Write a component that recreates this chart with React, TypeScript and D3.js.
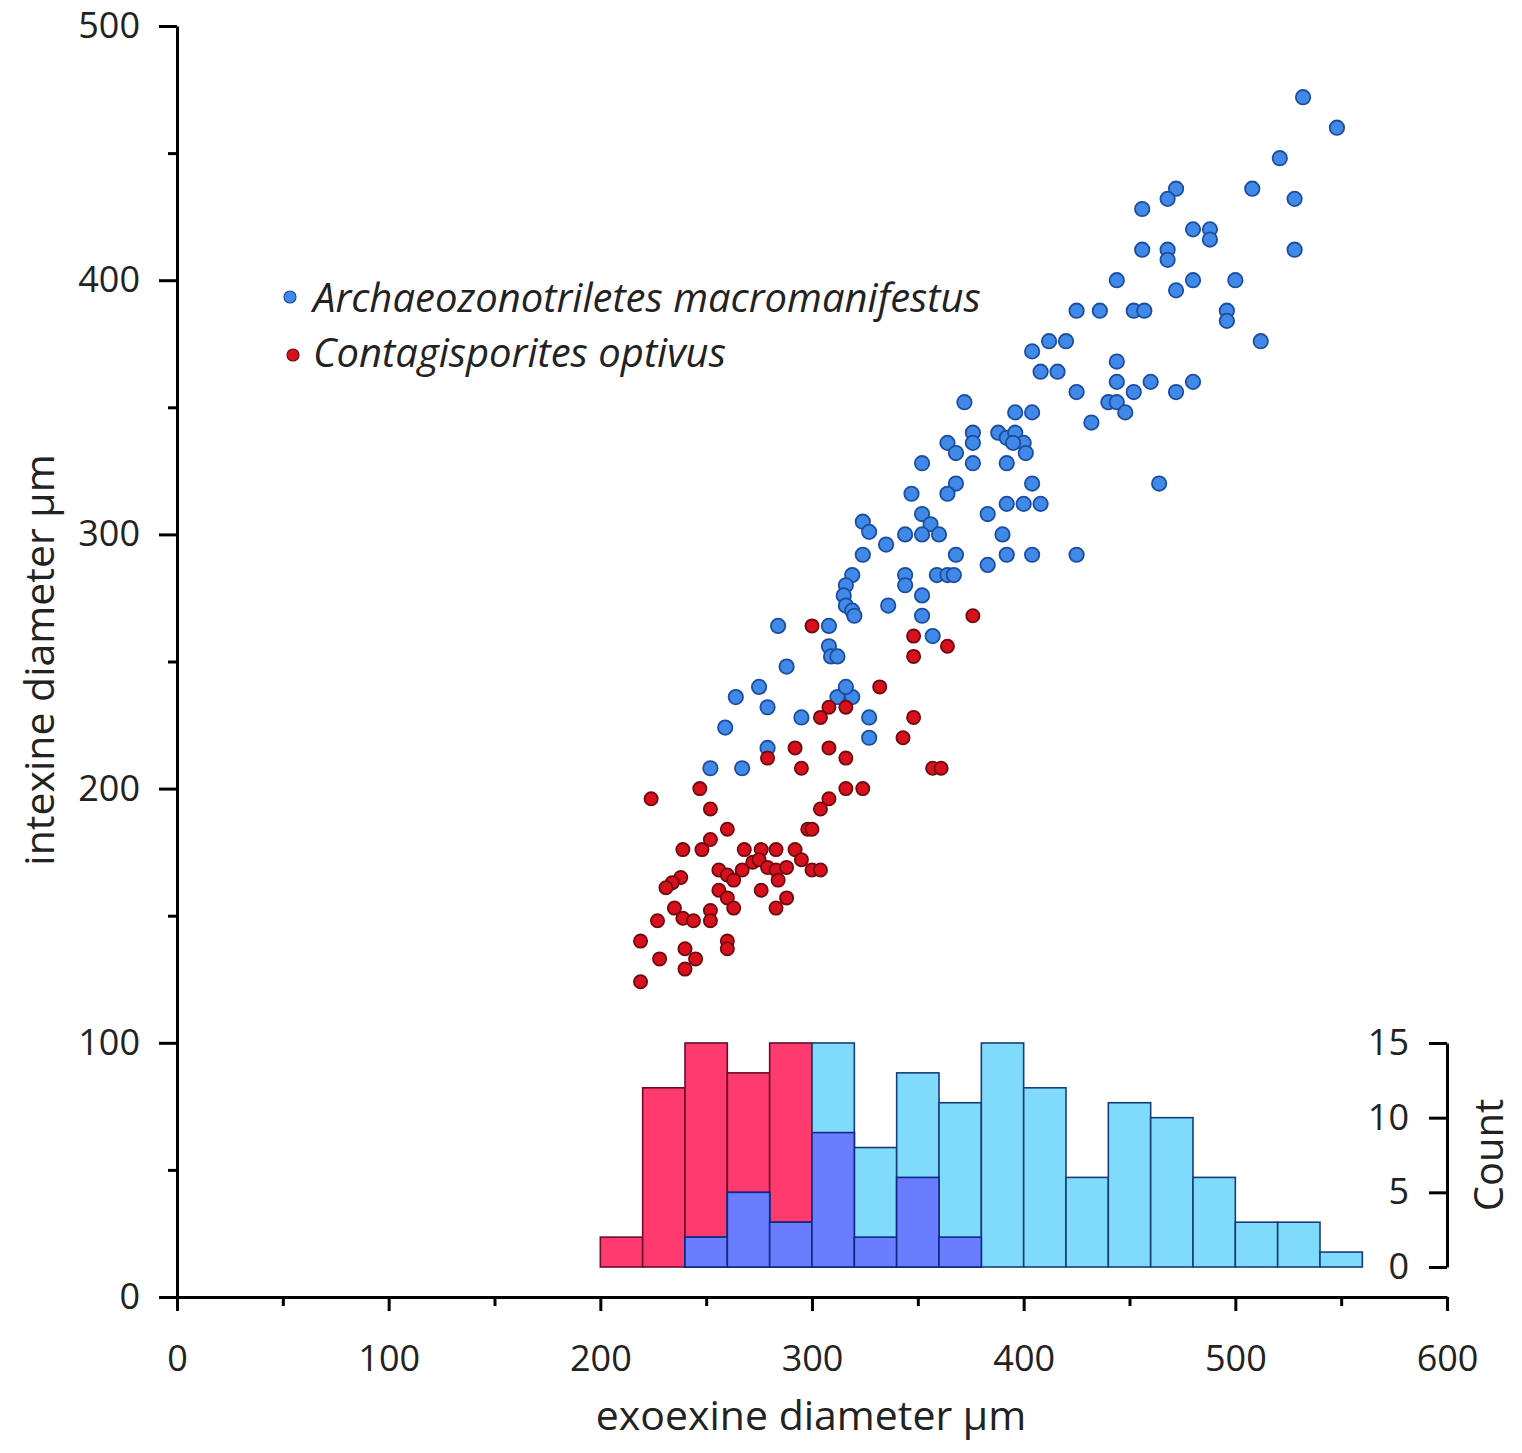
import React, { useRef, useEffect } from 'react';
import * as d3 from 'd3';

// scatter: [exoexine, intexine] in µm
const macromanifestus: [number, number][] = [
  [532, 472], [548, 460], [521, 448], [508, 436], [528, 432], [472, 436], [468, 432],
  [456, 428], [480, 420], [488, 420], [488, 416], [456, 412], [468, 412], [468, 408],
  [528, 412], [444, 400], [480, 400], [472, 396], [500, 400], [425, 388], [436, 388],
  [452, 388], [457, 388], [496, 388], [496, 384], [512, 376], [412, 376], [420, 376],
  [404, 372], [408, 364], [416, 364], [444, 368], [444, 360], [425, 356], [452, 356],
  [460, 360], [472, 356], [480, 360], [440, 352], [444, 352], [448, 348], [432, 344],
  [396, 348], [404, 348], [388, 340], [392, 338], [396, 340], [400, 336], [395, 336],
  [401, 332], [392, 328], [404, 320], [464, 320], [392, 312], [400, 312], [408, 312],
  [390, 300], [392, 292], [404, 292], [425, 292], [383, 288], [383, 308], [372, 352],
  [376, 340], [376, 336], [364, 336], [368, 332], [352, 328], [376, 328], [368, 320],
  [364, 316], [347, 316], [352, 308], [356, 304], [360, 300], [352, 300], [344, 300],
  [335, 296], [324, 305], [327, 301], [324, 292], [368, 292], [359, 284], [364, 284],
  [367, 284], [344, 284], [344, 280], [319, 284], [316, 280], [315, 276], [316, 272],
  [319, 270], [320, 268], [336, 272], [352, 276], [352, 268], [357, 260], [308, 264],
  [284, 264], [308, 256], [309, 252], [312, 252], [288, 248], [275, 240], [264, 236],
  [279, 232], [259, 224], [295, 228], [312, 236], [319, 236], [316, 240], [327, 228],
  [327, 220], [279, 216], [252, 208], [267, 208],
];

const optivus: [number, number][] = [
  [300, 264], [376, 268], [348, 260], [364, 256], [348, 252], [332, 240], [308, 232],
  [304, 228], [316, 232], [348, 228], [343, 220], [292, 216], [308, 216], [316, 212],
  [279, 212], [295, 208], [357, 208], [361, 208], [247, 200], [224, 196], [252, 192],
  [316, 200], [324, 200], [308, 196], [304, 192], [260, 184], [298, 184], [300, 184],
  [239, 176], [248, 176], [252, 180], [268, 176], [276, 176], [283, 176], [292, 176],
  [295, 172], [300, 168], [304, 168], [256, 168], [260, 166], [263, 164], [267, 168],
  [272, 171], [275, 172], [279, 169], [283, 168], [288, 169], [284, 164], [238, 165],
  [234, 163], [231, 161], [256, 160], [260, 157], [263, 153], [276, 160], [288, 157],
  [283, 153], [235, 153], [239, 149], [244, 148], [252, 152], [252, 148], [227, 148],
  [219, 140], [260, 140], [260, 137], [228, 133], [240, 137], [245, 133], [240, 129],
  [219, 124],
];

// histogram of exoexine diameter, 20 µm bins
const binStarts = [200, 220, 240, 260, 280, 300, 320, 340, 360, 380, 400, 420, 440, 460, 480, 500, 520, 540];
const countOptivus = [2, 12, 15, 13, 15, 9, 2, 6, 2, 0, 0, 0, 0, 0, 0, 0, 0, 0];
const countMacro = [0, 0, 2, 5, 3, 15, 8, 13, 11, 15, 12, 6, 11, 10, 6, 3, 3, 1];
const binWidth = 20;

const xTicks = [0, 100, 200, 300, 400, 500, 600];
const xMinor = [50, 150, 250, 350, 450, 550];
const yTicks = [0, 100, 200, 300, 400, 500];
const yMinor = [50, 150, 250, 350, 450];
const countTicks = [0, 5, 10, 15];

const legendItems = [
  { name: 'Archaeozonotriletes macromanifestus', fill: '#4189e8', stroke: '#1c4d9e' },
  { name: 'Contagisporites optivus', fill: '#d8101c', stroke: '#6e0a10' },
];

const W = 1522;
const H = 1453;
const FONT = '"Open Sans", "Noto Sans", sans-serif';
const TICK_FS = 36;
const TITLE_FS = 41;

export default function App() {
  const ref = useRef<SVGSVGElement>(null);

  useEffect(() => {
    const svg = d3.select(ref.current);
    svg.selectAll('*').remove();

    const x = d3.scaleLinear().domain([0, 600]).range([177, 1447]);
    const y = d3.scaleLinear().domain([0, 500]).range([1297, 26]);
    const yc = d3.scaleLinear().domain([0, 15]).range([1267, 1043]);

    // HISTOGRAM
    const hist = svg.append('g');
    const bins = binStarts.map((b, i) => ({ b, o: countOptivus[i], m: countMacro[i] }));

    const bar = (sel: any, count: (d: any) => number, fill: string, stroke: string) =>
      sel
        .selectAll(null)
        .data(bins.filter((d) => count(d) > 0))
        .enter()
        .append('rect')
        .attr('x', (d: any) => x(d.b))
        .attr('width', x(binWidth) - x(0))
        .attr('y', (d: any) => yc(count(d)))
        .attr('height', (d: any) => yc(0) - yc(count(d)))
        .attr('fill', fill)
        .attr('stroke', stroke)
        .attr('stroke-width', 1.6);

    bar(hist, (d) => d.o, '#ff3a6e', '#6a0c2a');
    bar(hist, (d) => d.m, '#80dbfa', '#173c7c');
    bar(hist, (d) => Math.min(d.o, d.m), '#6a7dff', '#0e2a82');

    // COUNT AXIS
    const countAxis = d3.axisLeft(yc).tickValues(countTicks).tickSize(18).tickSizeOuter(0).tickPadding(20);
    const gc = svg.append('g').attr('transform', `translate(${x(600)},0)`).call(countAxis);
    gc.select('.domain').attr('stroke-width', 3);
    gc.selectAll('.tick line').attr('stroke-width', 3);
    gc.selectAll('.tick text').attr('font-size', TICK_FS).attr('font-family', FONT).attr('fill', '#222');

    svg
      .append('text')
      .attr('transform', `translate(1503,${yc(7.5)}) rotate(-90)`)
      .attr('text-anchor', 'middle')
      .attr('font-size', 40)
      .attr('font-family', FONT)
      .attr('fill', '#222')
      .text('Count');

    // POINTS
    const dots = (data: [number, number][], r: number, fill: string, stroke: string) =>
      svg
        .append('g')
        .selectAll('circle')
        .data(data)
        .enter()
        .append('circle')
        .attr('cx', (d) => x(d[0]))
        .attr('cy', (d) => y(d[1]))
        .attr('r', r)
        .attr('fill', fill)
        .attr('stroke', stroke)
        .attr('stroke-width', 1.8);

    dots(macromanifestus, 7.2, legendItems[0].fill, legendItems[0].stroke);
    dots(optivus, 6.6, legendItems[1].fill, legendItems[1].stroke);

    // MAIN AXES
    const styleAxis = (g: any) => {
      g.select('.domain').attr('stroke-width', 3);
      g.selectAll('.tick line').attr('stroke-width', 3);
      g.selectAll('.tick text').attr('font-size', TICK_FS).attr('font-family', FONT).attr('fill', '#222');
    };

    const gx = svg
      .append('g')
      .attr('transform', `translate(0,${y(0)})`)
      .call(d3.axisBottom(x).tickValues(xTicks).tickSize(14).tickSizeOuter(0).tickPadding(34));
    styleAxis(gx);
    const gxm = svg
      .append('g')
      .attr('transform', `translate(0,${y(0)})`)
      .call(d3.axisBottom(x).tickValues(xMinor).tickSize(9).tickFormat(() => ''));
    styleAxis(gxm);
    gxm.select('.domain').remove();

    const gy = svg
      .append('g')
      .attr('transform', `translate(${x(0)},0)`)
      .call(d3.axisLeft(y).tickValues(yTicks).tickSize(18).tickSizeOuter(0).tickPadding(19));
    styleAxis(gy);
    const gym = svg
      .append('g')
      .attr('transform', `translate(${x(0)},0)`)
      .call(d3.axisLeft(y).tickValues(yMinor).tickSize(9).tickFormat(() => ''));
    styleAxis(gym);
    gym.select('.domain').remove();

    // AXIS TITLES
    svg
      .append('text')
      .attr('x', 811)
      .attr('y', 1430)
      .attr('text-anchor', 'middle')
      .attr('font-size', TITLE_FS)
      .attr('font-family', FONT)
      .attr('fill', '#222')
      .text('exoexine diameter µm');

    svg
      .append('text')
      .attr('transform', `translate(54,660) rotate(-90)`)
      .attr('text-anchor', 'middle')
      .attr('font-size', TITLE_FS)
      .attr('font-family', FONT)
      .attr('fill', '#222')
      .text('intexine diameter µm');

    // LEGEND
    const lg = svg.append('g');
    legendItems.forEach((item, i) => {
      lg.append('circle')
        .attr('cx', 290 + i * 3)
        .attr('cy', 297 + i * 58)
        .attr('r', 6)
        .attr('fill', item.fill)
        .attr('stroke', item.stroke)
        .attr('stroke-width', 1.2);
      lg.append('text')
        .attr('x', 313)
        .attr('y', 312 + i * 55)
        .attr('font-size', 40)
        .attr('font-style', 'italic')
        .attr('font-family', FONT)
        .attr('fill', '#222')
        .text(item.name);
    });
  }, []);

  return (
    <svg
      ref={ref}
      width={W}
      height={H}
      style={{ position: 'absolute', left: 0, top: 0, background: '#fff' }}
    />
  );
}
